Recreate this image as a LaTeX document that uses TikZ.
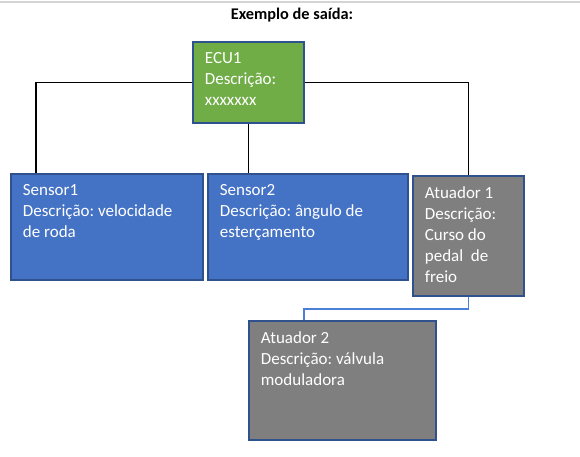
\documentclass[tikz,border=0pt]{standalone}
\usepackage{fontspec}
\setmainfont{Carlito}
\usetikzlibrary{positioning}
\definecolor{verde}{HTML}{70AD47}
\definecolor{azul}{HTML}{4472C4}
\definecolor{cinza}{HTML}{7F7F7F}
\definecolor{borda}{HTML}{2F528F}
\definecolor{azulclaro}{HTML}{4A80D8}
\frenchspacing
\tikzset{bloco/.style={draw=borda,line width=1.8pt,anchor=north west,
                       inner xsep=12pt,inner ysep=11pt,text=white,
                       font=\fontsize{17}{21}\selectfont},
         ligacao/.style={draw,line width=1.8pt},
         ligazul/.style={draw=azulclaro,line width=1.8pt}
         }
\newcommand{\caixa}[3]{\parbox[c][#2pt][t]{#1pt}{\raggedright #3}}

\begin{document}
\begin{tikzpicture}[x=1pt,y=-1pt]
\useasboundingbox (0,0) rectangle (580,456);
\draw[black!17,line width=1.2pt] (0,2) -- (580,2);
\node (titulo) at (292,15) {\fontsize{16.3}{18}\selectfont\bfseries Exemplo de saída:};
\node[bloco,fill=verde] (ecu) at (192,41) {\caixa{87}{59}{ECU1\\Descrição:\\xxxxxxx}};
\node[bloco,fill=azul] (sensor1) at (10,173) {\caixa{168}{84}{Sensor1\\Descrição: velocidade\\de roda}};
\node[bloco,fill=azul] (sensor2) at (207,173) {\caixa{176}{84}{Sensor2\\Descrição: ângulo de\\esterçamento}};
\node[bloco,fill=cinza] (atuador1) at (412,175) {\caixa{87}{98}{Atuador 1\\Descrição:\\Curso do\\pedal~ de\\freio}};
\node[bloco,fill=cinza] (atuador2) at (248,320) {\caixa{163}{97}{Atuador 2\\Descrição: válvula\\moduladora}};
\draw[ligacao] (ecu.west) -| ([xshift=26pt]sensor1.north west);
\draw[ligacao] (ecu.east) -| (atuador1.north);
\draw[ligacao] (ecu.south) -- (ecu.south |- sensor2.north);
\draw[ligazul] (atuador1.south) -- ++(0,12) -| ([xshift=56pt]atuador2.north west);
\end{tikzpicture}
\end{document}
